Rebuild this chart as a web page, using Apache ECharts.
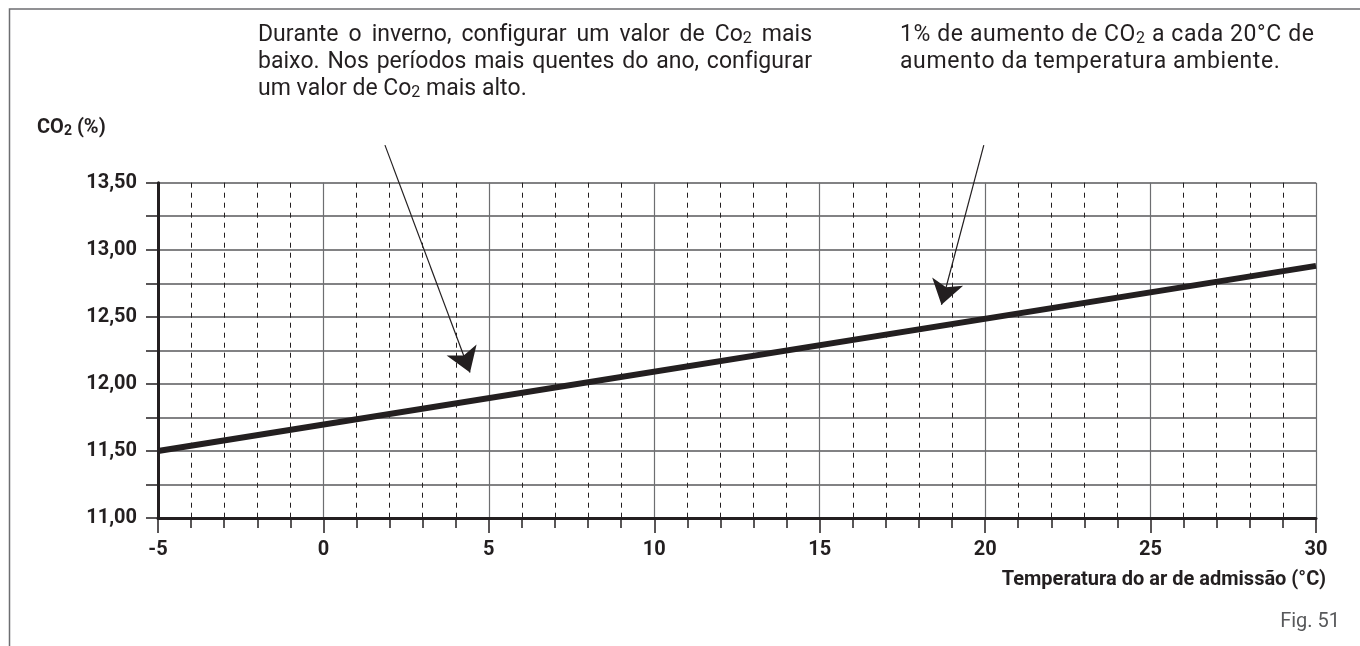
<!DOCTYPE html>
<html><head><meta charset="utf-8">
<script src="https://cdn.jsdelivr.net/npm/echarts@6/dist/echarts.min.js"></script>
<style>html,body{margin:0;padding:0;background:#fff}#c{width:1360px;height:646px}</style>
</head><body><div id="c"></div>
<script>
// ---- data ----
const temperatures = [-5, 30];
const co2Values = [11.5, 12.88];
const xTickLabels = ['-5', '0', '5', '10', '15', '20', '25', '30'];
const yTickLabels = ['11,00', '11,50', '12,00', '12,50', '13,00', '13,50'];
const arrowWinter = [[1.86, 13.78], [4.43, 12.085]];
const arrowRate = [[19.96, 13.78], [18.68, 12.59]];
const noteWinter = [
  'Durante o inverno, configurar um valor de Co_2 mais',
  'baixo. Nos períodos mais quentes do ano, configurar',
  'um valor de Co_2 mais alto.'
];
const noteRate = [
  '1% de aumento de CO_2 a cada 20°C de',
  'aumento da temperatura ambiente.'
];

const FONT = 'Roboto, "Noto Sans", sans-serif';
const TXT = '#231f20';
const cv = document.createElement('canvas').getContext('2d');
function measure(t, size, weight) {
  cv.font = (weight || 'normal') + ' ' + size + 'px ' + FONT;
  return cv.measureText(t).width;
}
function segs(word, size, weight, track) {
  const p = word.split('_');
  const out = [{ t: p[0], s: size }];
  if (p.length > 1) out.push({ t: p[1], s: Math.round(size * 0.7) });
  out.forEach(o => {
    o.chars = [...o.t].map(c => ({ c, w: measure(c, o.s, weight) + track }));
    o.w = o.chars.reduce((a, b) => a + b.w, 0);
  });
  return out;
}
function textLine(els, line, x0, yBottom, size, weight, color, track, justifyWidth) {
  const words = line.split(' ').map(w => segs(w, size, weight, track));
  const widths = words.map(ws => ws.reduce((a, b) => a + b.w, 0));
  const total = widths.reduce((a, b) => a + b, 0);
  let gap = measure(' ', size, weight) + track;
  if (justifyWidth) gap = (justifyWidth - total) / (words.length - 1);
  let x = x0;
  words.forEach((ws, i) => {
    let xx = x;
    ws.forEach(sg => {
      sg.chars.forEach(ch => {
        els.push({ type: 'text', x: xx, y: yBottom, silent: true,
          style: { text: ch.c, fill: color, font: weight + ' ' + sg.s + 'px ' + FONT,
            textAlign: 'left', textVerticalAlign: 'bottom', verticalAlign: 'bottom' } });
        xx += ch.w;
      });
    });
    x += widths[i] + gap;
  });
}

const chart = echarts.init(document.getElementById('c'), null, { renderer: 'canvas' });
const graphics = [];
graphics.push({ type: 'polyline', silent: true, shape: { points: [[9.5, 646], [9.5, 9], [1360, 9]] },
  style: { stroke: '#6d6e71', lineWidth: 1.5, fill: null } });

const FS = 23;
const L1 = 258, R1 = 812;
textLine(graphics, noteWinter[0], L1, 47, FS, 'normal', TXT, 0, R1 - L1);
textLine(graphics, noteWinter[1], L1, 74, FS, 'normal', TXT, 0, R1 - L1);
textLine(graphics, noteWinter[2], L1, 101, FS, 'normal', TXT, 0, null);
textLine(graphics, noteRate[0], 900, 47, FS, 'normal', TXT, 0.6, null);
textLine(graphics, noteRate[1], 900, 74, FS, 'normal', TXT, 0.6, null);
// y axis title
textLine(graphics, 'CO_2 (%)', 37, 138, 20, 'bold', TXT, 0, null);
// x axis title & figure number
graphics.push({ type: 'text', right: 34, top: 570, silent: true,
  style: { text: 'Temperatura do ar de admissão (°C)', fill: TXT, font: 'bold 20px ' + FONT } });
graphics.push({ type: 'text', right: 20, top: 612, silent: true,
  style: { text: 'Fig. 51', fill: '#58595b', font: 'normal 20px ' + FONT } });

chart.setOption({
  animation: false,
  backgroundColor: '#fff',
  grid: { left: 158, right: 44, top: 182.7, bottom: 128, containLabel: false },
  xAxis: {
    type: 'value', min: -5, max: 30, interval: 5,
    axisLine: { show: true, onZero: false, lineStyle: { color: '#231f20', width: 3 } },
    axisTick: { show: true, length: 15, lineStyle: { color: '#231f20', width: 1.5 } },
    minorTick: { show: true, splitNumber: 5, length: 10, lineStyle: { color: '#231f20', width: 1.5 } },
    axisLabel: { margin: 22, color: TXT, fontFamily: FONT, fontWeight: 'bold', fontSize: 20,
      formatter: v => { const s = String(Math.round(v)); return xTickLabels.includes(s) ? s : ''; } },
    splitLine: { show: true, lineStyle: { color: '#6d6e71', width: 1.2 } },
    minorSplitLine: { show: true, lineStyle: { color: '#231f20', width: 1, type: [5, 5] } }
  },
  yAxis: {
    type: 'value', min: 11, max: 13.5, interval: 0.25,
    axisLine: { show: true, onZero: false, lineStyle: { color: '#231f20', width: 3 } },
    axisTick: { show: true, length: 12, lineStyle: { color: '#231f20', width: 1.5 } },
    axisLabel: { margin: 21, color: TXT, fontFamily: FONT, fontWeight: 'bold', fontSize: 20,
      formatter: v => { const s = v.toFixed(2).replace('.', ','); return yTickLabels.includes(s) ? s : ''; } },
    splitLine: { show: true, lineStyle: { color: '#58595b', width: 1.5 } }
  },
  series: [
    { type: 'line', data: temperatures.map((t, i) => [t, co2Values[i]]), symbol: 'none',
      lineStyle: { color: '#231f20', width: 6 }, z: 5 },
    { type: 'lines', coordinateSystem: 'cartesian2d', clip: false, z: 6,
      symbol: ['none', 'arrow'], symbolSize: 24,
      lineStyle: { color: '#231f20', width: 1.2, opacity: 1, curveness: 0 },
      data: [{ coords: arrowWinter }, { coords: arrowRate }] }
  ],
  graphic: graphics
});
</script></body></html>
